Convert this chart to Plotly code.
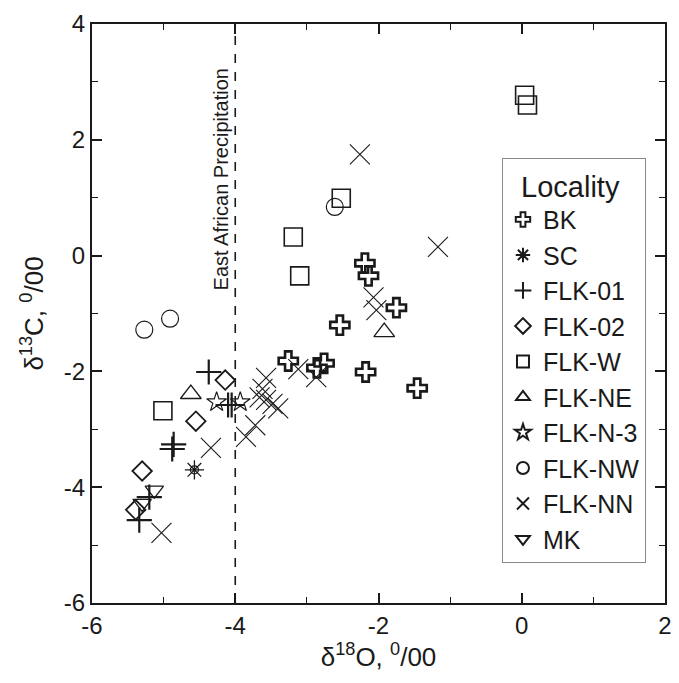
import plotly.graph_objects as go

# ---- data ----
bk_x = [-2.19, -2.14, -2.54, -1.75, -3.26, -2.76, -2.86, -2.18, -1.46]
bk_y = [-0.13, -0.35, -1.20, -0.90, -1.82, -1.86, -1.94, -2.01, -2.29]

sc_x = [-4.57]
sc_y = [-3.70]

flk01_x = [-4.37, -4.10, -4.05, -4.86, -4.88, -5.20, -5.34]
flk01_y = [-2.01, -2.58, -2.58, -3.26, -3.34, -4.17, -4.57]

flk02_x = [-4.14, -4.55, -5.30, -5.39]
flk02_y = [-2.15, -2.86, -3.72, -4.39]

flkw_x = [0.04, 0.08, -2.52, -3.19, -3.10, -5.01]
flkw_y = [2.77, 2.60, 0.99, 0.32, -0.35, -2.68]

flkne_x = [-4.62, -1.92]
flkne_y = [-2.39, -1.32]

flkn3_x = [-4.26, -3.93]
flkn3_y = [-2.53, -2.53]

flknw_x = [-5.27, -4.91, -2.61]
flknw_y = [-1.28, -1.09, 0.84]

flknn_x = [-2.26, -1.17, -2.07, -2.03, -3.12, -2.87, -3.57, -3.62, -3.66,
           -3.57, -3.48, -3.40, -3.72, -3.85, -4.34, -5.03]
flknn_y = [1.75, 0.15, -0.72, -0.94, -1.96, -2.10, -2.11, -2.30, -2.45,
           -2.49, -2.56, -2.64, -2.93, -3.13, -3.32, -4.79]

mk_x = [-5.13, -5.30]
mk_y = [-4.05, -4.28]

precip_x = -4
precip_label = "East African Precipitation"

x_ticks = [-6, -4, -2, 0, 2]
y_ticks = [-6, -4, -2, 0, 2, 4]

FONT = "Arial, Liberation Sans, sans-serif"
BLACK = "#1a1a1a"

fig = go.Figure()

def add(name, xs, ys, symbol, size, width, showlegend=True, group=None):
    fig.add_trace(go.Scatter(
        x=xs, y=ys, mode="markers", name=name,
        legendgroup=group or name, showlegend=showlegend,
        marker=dict(symbol=symbol, size=size, color=BLACK,
                    line=dict(color=BLACK, width=width)),
    ))

add("BK", bk_x, bk_y, "cross-open", 16, 2.6)
add("SC", sc_x, sc_y, "asterisk-open", 16, 1.3)
add("SC", sc_x, sc_y, "circle-open", 8, 1.3, showlegend=False, group="SC")
add("FLK-01", flk01_x, flk01_y, "cross-thin-open", 18, 2.2)
add("FLK-02", flk02_x, flk02_y, "diamond-open", 15, 1.8)
add("FLK-W", flkw_x, flkw_y, "square-open", 18, 1.6)
add("FLK-NE", flkne_x, flkne_y, "triangle-up-open", 18, 1.3)
add("FLK-N-3", flkn3_x, flkn3_y, "star-open", 15, 1.2)
add("FLK-NW", flknw_x, flknw_y, "circle-open", 17, 1.2)
add("FLK-NN", flknn_x, flknn_y, "x-thin-open", 20, 1.1)
add("MK", mk_x, mk_y, "triangle-down-open", 16, 1.3)

# vertical dashed reference line
fig.add_shape(type="line", x0=precip_x, x1=precip_x, y0=-6, y1=4,
              xref="x", yref="y",
              line=dict(color=BLACK, width=1.6, dash="dash"))
fig.add_annotation(x=precip_x, y=1.32, xref="x", yref="y",
                   text=precip_label, textangle=-90, showarrow=False,
                   xanchor="right", xshift=-1,
                   font=dict(family=FONT, size=20, color=BLACK))

axis_common = dict(
    showline=True, linecolor=BLACK, linewidth=2, mirror="ticks",
    ticks="inside", ticklen=10, tickwidth=1.6, tickcolor=BLACK,
    showgrid=False, zeroline=False, automargin=False,
    tickfont=dict(family=FONT, size=24, color=BLACK),
    minor=dict(ticks="inside", ticklen=6, tickwidth=1.4, tickcolor=BLACK, dtick=1),
)

fig.update_xaxes(range=[-6, 2], tickvals=x_ticks, ticktext=[str(v) for v in x_ticks],
                 title=dict(text="δ<sup>18</sup>O, <sup>0</sup>/00",
                            font=dict(family=FONT, size=26, color=BLACK), standoff=4),
                 **axis_common)
fig.update_yaxes(range=[-6, 4], tickvals=y_ticks, ticktext=[str(v) for v in y_ticks],
                 title=dict(text="δ<sup>13</sup>C, <sup>0</sup>/00",
                            font=dict(family=FONT, size=26, color=BLACK), standoff=13),
                 **axis_common)

# the page adds an 8px body margin, so the figure is sized to fit the window
fig.update_layout(
    width=671, height=667,
    margin=dict(l=84, r=14, t=16, b=72),
    paper_bgcolor="white", plot_bgcolor="white",
    font=dict(family=FONT, color=BLACK),
    legend=dict(
        title=dict(text="  Locality", font=dict(family=FONT, size=29, color=BLACK)),
        font=dict(family=FONT, size=25, color=BLACK),
        x=0.7155, xanchor="left", y=0.7686, yanchor="top",
        bordercolor="#888888", borderwidth=1, bgcolor="white",
        itemwidth=30, tracegroupgap=0, itemsizing="constant",
    ),
)

fig.write_html("out.html")
